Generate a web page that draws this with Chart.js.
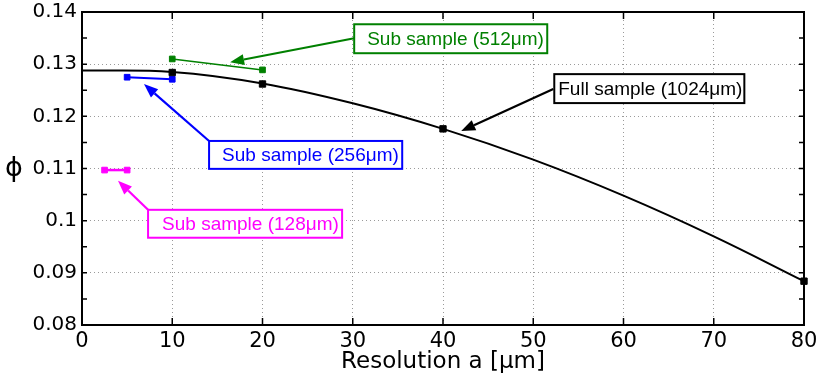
<!DOCTYPE html>
<html>
<head>
<meta charset="utf-8">
<script src="https://cdn.jsdelivr.net/npm/chart.js@4.4.1/dist/chart.umd.min.js"></script>
<style>
  html, body { margin: 0; padding: 0; background: #fff; }
  #wrap { width: 819px; height: 380px; }
</style>
</head>
<body>
<div id="wrap"><canvas id="phiChart" width="819" height="380"></canvas></div>
<script>
// --- values ---
const fitX   = [0, 10, 20, 30, 40, 50, 60, 70, 80];
const fitPhi = [0.1288, 0.1285, 0.1263, 0.1225, 0.1176, 0.1117, 0.1048, 0.0970, 0.0884];

const fullX   = [10, 20, 40, 80];
const fullPhi = [0.1284, 0.1262, 0.1176, 0.0884];
const sub512X   = [10, 20];
const sub512Phi = [0.1310, 0.1289];
const sub256X   = [5, 10];
const sub256Phi = [0.1275, 0.1271];
const sub128X   = [2.5, 5];
const sub128Phi = [0.1097, 0.1097];

const xTicks = [0, 10, 20, 30, 40, 50, 60, 70, 80];
const yTicks = [0.08, 0.09, 0.1, 0.11, 0.12, 0.13, 0.14];

// callouts (box corners, arrow start and tip in data units)
const notes = [
  { text: 'Sub sample (512\u03bcm)', color: '#008000', box: [30.16, 51.55, 0.13765, 0.1321], textX: 31.6, from: [30.16, 0.13497], tip: [16.41, 0.13038] },
  { text: 'Full sample (1024\u03bcm)', color: '#000000', box: [52.33, 73.39, 0.12809, 0.12254], textX: 52.77, from: [52.22, 0.12522], tip: [42.02, 0.11719] },
  { text: 'Sub sample (256\u03bcm)', color: '#0000ff', box: [14.08, 35.48, 0.11528, 0.10993], textX: 15.52, from: [14.08, 0.11528], tip: [6.87, 0.12618] },
  { text: 'Sub sample (128\u03bcm)', color: '#ff00ff', box: [7.32, 28.82, 0.10208, 0.09673], textX: 8.87, from: [7.32, 0.10208], tip: [3.99, 0.10763] }
];

const toPts = (xs, ys) => xs.map((v, i) => ({ x: v, y: ys[i] }));
const isMajorY = v => yTicks.some(t => Math.abs(t - v) < 1e-6);

function markerSet(xs, ys, color, width) {
  return {
    data: toPts(xs, ys),
    showLine: true,
    borderColor: color,
    backgroundColor: color,
    borderWidth: width,
    pointStyle: 'rect',
    pointRadius: 4,
    pointBorderWidth: 1,
    clip: false
  };
}

function drawArrow(ctx, sx, sy, tx, ty, color) {
  const ang = Math.atan2(ty - sy, tx - sx);
  const head = 14, half = 5.5;
  const bx = tx - head * Math.cos(ang), by = ty - head * Math.sin(ang);
  ctx.strokeStyle = color;
  ctx.fillStyle = color;
  ctx.lineWidth = 2.2;
  ctx.beginPath();
  ctx.moveTo(sx, sy);
  ctx.lineTo(bx, by);
  ctx.stroke();
  ctx.beginPath();
  ctx.moveTo(tx, ty);
  ctx.lineTo(bx + half * Math.sin(ang), by - half * Math.cos(ang));
  ctx.lineTo(bx - half * Math.sin(ang), by + half * Math.cos(ang));
  ctx.closePath();
  ctx.fill();
}

// frame, inward ticks, phi label and the callouts
const framePlugin = {
  id: 'matlabFrame',
  afterDraw(chart) {
    const { ctx, chartArea: a, scales: { x, y } } = chart;
    ctx.save();
    ctx.strokeStyle = '#000';
    ctx.lineWidth = 1.5;
    ctx.beginPath();
    y.ticks.forEach(t => {
      const py = y.getPixelForValue(t.value);
      ctx.moveTo(a.left, py); ctx.lineTo(a.left + 5, py);
      ctx.moveTo(a.right, py); ctx.lineTo(a.right - 5, py);
    });
    x.ticks.forEach(t => {
      const px = x.getPixelForValue(t.value);
      ctx.moveTo(px, a.bottom); ctx.lineTo(px, a.bottom - 7);
      ctx.moveTo(px, a.top); ctx.lineTo(px, a.top + 7);
    });
    ctx.stroke();
    ctx.lineWidth = 2;
    ctx.strokeRect(a.left, a.top, a.right - a.left, a.bottom - a.top);

    ctx.fillStyle = '#000';
    ctx.font = '27px "DejaVu Sans"';
    ctx.textAlign = 'center';
    ctx.textBaseline = 'middle';
    ctx.fillText('\u03d5', 14, (a.top + a.bottom) / 2);

    notes.forEach(n => {
      const L = x.getPixelForValue(n.box[0]), R = x.getPixelForValue(n.box[1]);
      const T = y.getPixelForValue(n.box[2]), B = y.getPixelForValue(n.box[3]);
      drawArrow(ctx, x.getPixelForValue(n.from[0]), y.getPixelForValue(n.from[1]),
                x.getPixelForValue(n.tip[0]), y.getPixelForValue(n.tip[1]), n.color);
      ctx.fillStyle = '#fff';
      ctx.fillRect(L, T, R - L, B - T);
      ctx.lineWidth = 2;
      ctx.strokeStyle = n.color;
      ctx.strokeRect(L, T, R - L, B - T);
      ctx.fillStyle = n.color;
      ctx.font = '19px "Liberation Sans"';
      ctx.textAlign = 'left';
      ctx.textBaseline = 'middle';
      ctx.fillText(n.text, x.getPixelForValue(n.textX), (T + B) / 2 + 1);
    });
    ctx.restore();
  }
};

new Chart(document.getElementById('phiChart'), {
  type: 'scatter',
  data: {
    datasets: [
      { data: toPts(fitX, fitPhi), showLine: true, borderColor: '#000', borderWidth: 2,
        pointRadius: 0, tension: 0.4 },
      Object.assign(markerSet(fullX, fullPhi, '#000', 0), { showLine: false, pointRadius: 4.5 }),
      markerSet(sub512X, sub512Phi, '#008000', 1.5),
      markerSet(sub256X, sub256Phi, '#0000ff', 2),
      markerSet(sub128X, sub128Phi, '#ff00ff', 2.5)
    ]
  },
  options: {
    responsive: false,
    animation: false,
    layout: { padding: { top: 12, right: 15, left: 0, bottom: 0 } },
    plugins: { legend: { display: false }, tooltip: { enabled: false } },
    scales: {
      x: {
        type: 'linear', min: 0, max: 80,
        afterFit: s => { s.height = 55; s.paddingLeft = 0; s.paddingRight = 0; },
        afterBuildTicks: s => { s.ticks = xTicks.map(v => ({ value: v })); },
        ticks: { color: '#000', font: { family: 'DejaVu Sans', size: 21 }, padding: 4, maxRotation: 0 },
        grid: {
          drawTicks: false, lineWidth: 1,
          color: c => (c.tick && c.tick.value > 0 && c.tick.value < 80) ? '#9a9a9a' : 'rgba(0,0,0,0)'
        },
        border: { display: false, dash: [1, 3] },
        title: { display: true, text: 'Resolution a [\u03bcm]', color: '#000',
                 font: { family: 'DejaVu Sans', size: 23 }, padding: { top: 0, bottom: 4 } }
      },
      y: {
        type: 'linear', min: 0.08, max: 0.14,
        afterFit: s => { s.width = 82; s.paddingTop = 0; s.paddingBottom = 0; },
        ticks: {
          stepSize: 0.005, autoSkip: false, color: '#000', padding: 5,
          font: { family: 'DejaVu Sans', size: 20 },
          callback: v => isMajorY(v) ? String(+v.toFixed(2)) : ''
        },
        grid: {
          drawTicks: false, lineWidth: 1,
          color: c => (c.tick && isMajorY(c.tick.value) && c.tick.value > 0.0801 && c.tick.value < 0.1399) ? '#9a9a9a' : 'rgba(0,0,0,0)'
        },
        border: { display: false, dash: [1, 3] }
      }
    }
  },
  plugins: [framePlugin]
});
</script>
</body>
</html>
